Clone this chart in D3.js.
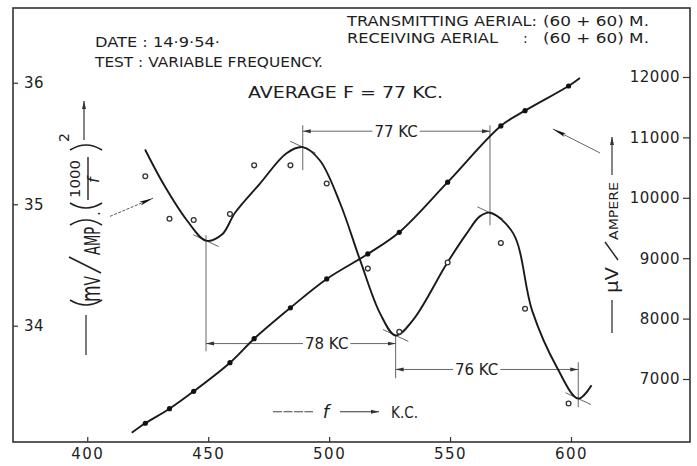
<!DOCTYPE html>
<html><head><meta charset="utf-8">
<script src="https://cdn.jsdelivr.net/npm/d3@7"></script>
<style>
body{margin:0;background:#fff;}
svg{display:block;background:#fff;}
text{font-family:"DejaVu Sans",sans-serif;fill:#1e1e1e;}
</style></head><body>
<svg id="c" width="697" height="466"></svg>
<script>
// ---- data ----
const freq = [424,434,444,459,469,484,499,516,529,549,571,581,599];
const ratioValues = [35.23,34.88,34.87,34.92,35.32,35.32,35.17,34.47,33.95,34.52,34.68,34.14,33.36];
const uvValues = [6267,6508,6796,7270,7667,8179,8656,9070,9429,10258,11189,11442,11851];

const ratioCurveF = [423.9,431.4,441.1,449.1,455.7,461.1,471.4,482.4,489.1,496.2,504.5,512.8,521.1,527.5,534.8,548.6,556.9,562.3,566.5,576.1,584.0,594.1,603.0,608.5];
const ratioCurveV = [35.45,35.17,34.87,34.70,34.75,34.93,35.17,35.42,35.47,35.36,35.01,34.54,34.10,33.92,34.05,34.51,34.76,34.90,34.93,34.76,34.12,33.66,33.40,33.51];

const uvCurveF = [418.4,424,434,444,459,469,484,499,516,529,549,571,581,599,603.7];
const uvCurveV = [6111,6267,6508,6796,7270,7667,8179,8656,9070,9429,10258,11189,11442,11851,11983];

const xTicks = [400,450,500,550,600];
const leftTicks = [34,35,36];
const rightTicks = [7000,8000,9000,10000,11000,12000];

// extrema of the fitted curve and the dimension lines
const extremaF = [449.1,489.1,527.5,566.5,603.0];
const extremaV = [34.70,35.47,33.92,34.93,33.40];
const extTop = [34.745,35.650,33.922,35.650,33.700];
const extBottom = [33.79,35.280,33.568,34.827,33.329];

const dimFrom = [489.1,449.1,527.5];
const dimTo = [566.5,527.5,603.0];
const dimLevel = [35.601,33.853,33.640];
const dimLabelAt = [527.7,499.0,561.0];
const dimLabel = ["77 KC","78 KC","76 KC"];

// ---- scales ----
const W=697,H=466;
const L=13,R=690,T=8,B=442;
const x = d3.scaleLinear().domain([369.3,649.2]).range([L,R]);
const yL = d3.scaleLinear().domain([33.043,36.615]).range([B,T]);
const yR = d3.scaleLinear().domain([5957,13142]).range([B,T]);

const svg = d3.select("#c");
const ink="#222";
const defs = svg.append("defs");
defs.append("marker").attr("id","ah").attr("viewBox","0 0 10 6").attr("refX",10).attr("refY",3)
  .attr("markerWidth",8).attr("markerHeight",5).attr("markerUnits","userSpaceOnUse").attr("orient","auto")
  .append("path").attr("d","M0,0.5 L10,3 L0,5.5 Z").attr("fill","#333");
defs.append("marker").attr("id","ahBig").attr("viewBox","0 0 14 6").attr("refX",14).attr("refY",3)
  .attr("markerWidth",14).attr("markerHeight",6).attr("markerUnits","userSpaceOnUse").attr("orient","auto")
  .append("path").attr("d","M0,1 L14,3 L0,5 L3,3 Z").attr("fill","#111");

// frame
svg.append("rect").attr("x",L).attr("y",T).attr("width",R-L).attr("height",B-T)
  .attr("fill","none").attr("stroke","#333").attr("stroke-width",1.6);

// axes
const fmt = d3.format("d");
const gx = svg.append("g").attr("transform",`translate(0,${B})`)
  .call(d3.axisBottom(x).tickValues(xTicks).tickFormat(fmt).tickSize(-5).tickPadding(6));
const gl = svg.append("g").attr("transform",`translate(${L},0)`)
  .call(d3.axisRight(yL).tickValues(leftTicks).tickFormat(fmt).tickSize(5).tickPadding(6));
const gr = svg.append("g").attr("transform",`translate(${R},0)`)
  .call(d3.axisLeft(yR).tickValues(rightTicks).tickFormat(fmt).tickSize(7).tickPadding(3));
[gx,gl,gr].forEach(g=>{
  g.select(".domain").remove();
  g.selectAll(".tick line").attr("stroke","#333").attr("stroke-width",1.2);
  g.selectAll(".tick text").attr("font-family","DejaVu Sans").attr("font-size",15).attr("fill","#222").attr("letter-spacing","0.5px");
});
gx.selectAll(".tick text").attr("letter-spacing","1.5px");

// extension lines
const thin = svg.append("g").attr("stroke","#555").attr("stroke-width",0.9).attr("fill","none");
extremaF.forEach((f,i)=>{
  thin.append("line").attr("x1",x(f)).attr("x2",x(f)).attr("y1",yL(extTop[i])).attr("y2",yL(extBottom[i]));
});
// tangent marks at extrema
extremaF.forEach((f,i)=>{
  const cx=x(f), cy=yL(extremaV[i]), a=25*Math.PI/180, h=14;
  thin.append("line").attr("x1",cx-h*Math.cos(a)).attr("y1",cy-h*Math.sin(a))
    .attr("x2",cx+h*Math.cos(a)).attr("y2",cy+h*Math.sin(a));
});

// dimension lines with labels
dimLabel.forEach((lab,i)=>{
  const yy=yL(dimLevel[i]);
  const t=svg.append("text").attr("x",x(dimLabelAt[i])).attr("y",yy+5.5)
    .attr("text-anchor","middle").attr("font-size",15).text(lab);
  const w=t.node().getComputedTextLength();
  const cx=x(dimLabelAt[i]);
  thin.append("line").attr("x1",cx-w/2-2).attr("x2",x(dimFrom[i])).attr("y1",yy).attr("y2",yy).attr("marker-end","url(#ah)");
  thin.append("line").attr("x1",cx+w/2+2).attr("x2",x(dimTo[i])).attr("y1",yy).attr("y2",yy).attr("marker-end","url(#ah)");
});

// curves
const lineL = d3.line().x(d=>x(d[0])).y(d=>yL(d[1])).curve(d3.curveCatmullRom.alpha(0.5));
const lineR = d3.line().x(d=>x(d[0])).y(d=>yR(d[1])).curve(d3.curveCatmullRom.alpha(0.5));
svg.append("path").attr("d",lineL(ratioCurveF.map((f,i)=>[f,ratioCurveV[i]])))
  .attr("fill","none").attr("stroke","#1a1a1a").attr("stroke-width",1.9);
svg.append("path").attr("d",lineR(uvCurveF.map((f,i)=>[f,uvCurveV[i]])))
  .attr("fill","none").attr("stroke","#1a1a1a").attr("stroke-width",1.9);

// points
svg.append("g").selectAll("circle").data(freq).join("circle")
  .attr("cx",d=>x(d)).attr("cy",(d,i)=>yL(ratioValues[i])).attr("r",2.4)
  .attr("fill","#fff").attr("stroke","#333").attr("stroke-width",1.3);
svg.append("g").selectAll("circle").data(freq).join("circle")
  .attr("cx",d=>x(d)).attr("cy",(d,i)=>yR(uvValues[i])).attr("r",2.6)
  .attr("fill","#111");

// pointer arrows to the curves
svg.append("line").attr("x1",x(409.4)).attr("y1",yL(34.90)).attr("x2",x(427.2)).attr("y2",yL(35.05))
  .attr("stroke","#444").attr("stroke-width",0.9).attr("stroke-dasharray","3,1.5").attr("marker-end","url(#ahBig)");
svg.append("line").attr("x1",x(612.0)).attr("y1",yR(10742)).attr("x2",x(592.5)).attr("y2",yR(11139))
  .attr("stroke","#555").attr("stroke-width",0.9).attr("marker-end","url(#ahBig)");

// header texts
function txt(s,xx,yy,size,len){
  const t=svg.append("text").attr("x",xx).attr("y",yy).attr("font-size",size).text(s);
  if(len) t.attr("textLength",len).attr("lengthAdjust","spacingAndGlyphs");
  return t;
}
txt("DATE : 14·9·54·",95,47,14,125);
txt("TEST  : VARIABLE FREQUENCY.",95,67,14,228);
txt("AVERAGE  F = 77 KC.",248,98,15,195);
txt("TRANSMITTING  AERIAL:",347,26,14,190);
txt("(60 + 60)  M.",543,26,14,106);
txt("RECEIVING  AERIAL",347,43,14,151);
txt(":",523,43,14);
txt("(60 + 60)  M.",543,43,14,106);

// left axis title (rotated)
const lt = svg.append("g").attr("transform","translate(100,307) rotate(-90)");
const par = (lx,open)=> open ? `M${lx+7},-30 Q${lx-3},-14 ${lx+7},2` : `M${lx},-30 Q${lx+10},-14 ${lx},2`;
lt.append("path").attr("d",par(0,true)).attr("fill","none").attr("stroke",ink).attr("stroke-width",1.6);
const mv = lt.append("text").attr("x",5).attr("y",0).attr("font-size",21).attr("textLength",26).attr("lengthAdjust","spacingAndGlyphs");
mv.append("tspan").attr("font-size",26).text("m");
mv.append("tspan").text("V");
lt.append("line").attr("x1",34).attr("y1",1).attr("x2",50).attr("y2",-31).attr("stroke",ink).attr("stroke-width",1.6);
lt.append("text").attr("x",52).attr("y",0).attr("font-size",21).attr("textLength",28).attr("lengthAdjust","spacingAndGlyphs").text("AMP");
lt.append("path").attr("d",par(82,false)).attr("fill","none").attr("stroke",ink).attr("stroke-width",1.6);
lt.append("text").attr("x",91).attr("y",0).attr("font-size",15).text(".");
lt.append("path").attr("d",par(97,true)).attr("fill","none").attr("stroke",ink).attr("stroke-width",1.6);
lt.append("text").attr("x",109).attr("y",-20).attr("font-size",14).attr("textLength",38).attr("lengthAdjust","spacingAndGlyphs").text("1000");
lt.append("line").attr("x1",107).attr("y1",-12).attr("x2",150).attr("y2",-12).attr("stroke",ink).attr("stroke-width",1.4);
lt.append("text").attr("x",124).attr("y",-1).attr("font-size",16).attr("font-family","DejaVu Serif").attr("font-style","italic").text("f");
lt.append("path").attr("d",par(157,false)).attr("fill","none").attr("stroke",ink).attr("stroke-width",1.6);
lt.append("text").attr("x",165).attr("y",-31).attr("font-size",14).text("2");
svg.append("line").attr("x1",86).attr("y1",315).attr("x2",86).attr("y2",355).attr("stroke",ink).attr("stroke-width",1.2);
svg.append("line").attr("x1",84).attr("y1",140).attr("x2",84).attr("y2",101).attr("stroke",ink).attr("stroke-width",1.1).attr("marker-end","url(#ah)");

// right axis title (rotated)
const rt = svg.append("g").attr("transform","translate(618,333) rotate(-90)");
rt.append("line").attr("x1",0).attr("y1",-6).attr("x2",33).attr("y2",-6).attr("stroke",ink).attr("stroke-width",1.2);
rt.append("text").attr("x",40).attr("y",0).attr("font-size",17).attr("textLength",26).attr("lengthAdjust","spacingAndGlyphs").text("µV");
rt.append("line").attr("x1",73).attr("y1",0).attr("x2",91).attr("y2",-13).attr("stroke",ink).attr("stroke-width",1.4);
rt.append("text").attr("x",93).attr("y",0).attr("font-size",12.5).attr("textLength",58).attr("lengthAdjust","spacingAndGlyphs").text("AMPERE");
rt.append("line").attr("x1",158).attr("y1",-6).attr("x2",196).attr("y2",-6).attr("stroke",ink).attr("stroke-width",1.1).attr("marker-end","url(#ah)");

// bottom axis title
svg.append("line").attr("x1",273).attr("y1",411.7).attr("x2",313).attr("y2",411.7).attr("stroke","#444").attr("stroke-width",1.1).attr("stroke-dasharray","9,1.5");
svg.append("text").attr("x",326).attr("y",418).attr("text-anchor","middle").attr("font-size",18).attr("font-family","DejaVu Serif").attr("font-style","italic").text("f");
svg.append("line").attr("x1",340).attr("y1",411.7).attr("x2",379).attr("y2",411.7).attr("stroke","#333").attr("stroke-width",1.1).attr("marker-end","url(#ah)");
txt("K.C.",391,417.5,15,27);
</script>
</body></html>
